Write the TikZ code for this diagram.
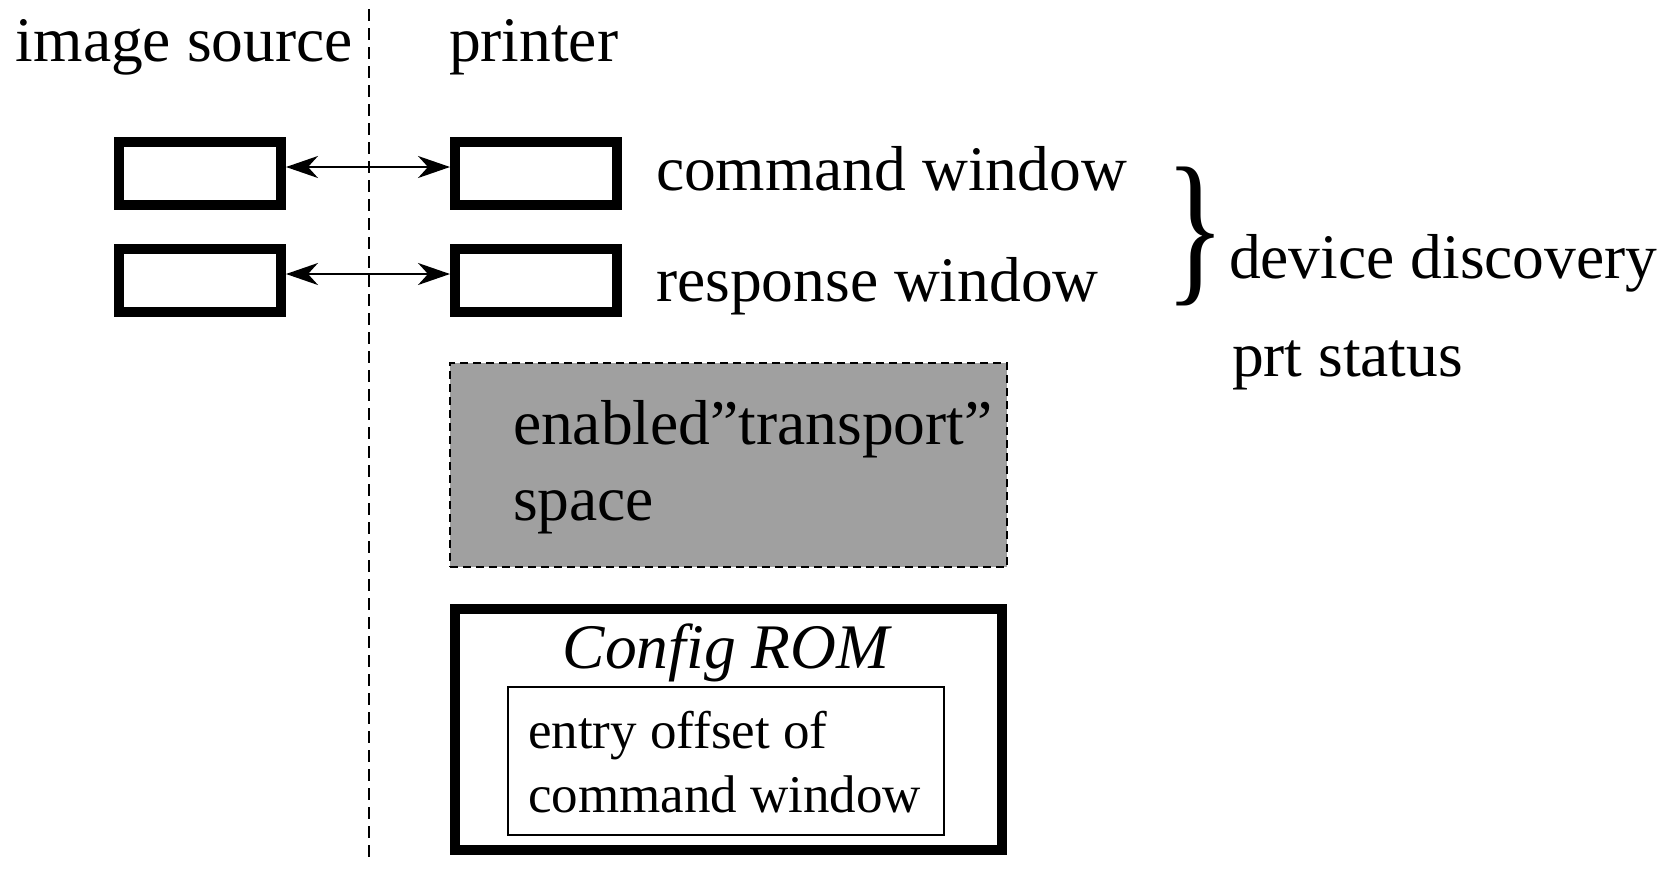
\documentclass[tikz,border=0pt]{standalone}
\usepackage{fontspec}
\usepackage{graphicx}
\setmainfont{Liberation Serif}
\usetikzlibrary{arrows.meta}
\begin{document}
\begin{tikzpicture}[x=0.5pt,y=-0.5pt,
  lbl/.style={anchor=base west,inner sep=0pt,outer sep=0pt},
  win/.style={draw,line width=5pt,minimum width=81pt,minimum height=31.5pt,inner sep=0pt,fill=white},
  link/.style={{Stealth[length=16pt,width=11pt,inset=5pt]}-{Stealth[length=16pt,width=11pt,inset=5pt]},line width=1pt},
  font=\fontsize{31.75}{38}\selectfont]
\useasboundingbox (0,0) rectangle (1676,869);
% divider
\coordinate (dtop) at (369,9);
\coordinate (dbot) at (369,860);
\draw[line width=1.4pt,dash pattern=on 6pt off 3.5pt] (dtop) -- (dbot);
% headings
\node[lbl] (src) at (16,61) {image source};
\node[lbl] (prt) at (449,61) {printer};
% windows
\node[win] (lb1) at (200,173) {};
\node[win] (lb2) at (200,280) {};
\node[win] (rb1) at (536,173) {};
\node[win] (rb2) at (536,280) {};
\draw[link] ([yshift=3pt]lb1.east) -- ([yshift=3pt]rb1.west);
\draw[link] ([yshift=3pt]lb2.east) -- ([yshift=3pt]rb2.west);
\node[lbl] (cw) at (656,190) {command window};
\node[lbl] (rw) at (656,301) {response window};
% brace
\node[inner sep=0pt] (br) at (1195,236) {\resizebox*{30pt}{69.5pt}{\}}};
\node[lbl] (dd) at (1229,278) {device discovery};
\node[lbl] (ps) at (1232,376) {prt status};
% transport space
\node[draw,line width=0.8pt,dash pattern=on 4pt off 2.5pt,fill={rgb,255:red,160;green,160;blue,160},
  minimum width=278.5pt,minimum height=102pt,inner sep=0pt] (ts) at (728.5,465) {};
\node[lbl] (ts1) at (513,444) {enabled”transport”};
\node[lbl] (ts2) at (513,520) {space};
% config ROM
\node[draw,line width=4.8pt,minimum width=273.5pt,minimum height=120.5pt,inner sep=0pt] (rom) at (728.5,729.5) {};
\node[anchor=base,inner sep=0pt,font=\fontsize{31.75}{38}\selectfont\itshape] (romt) at (726,668) {Config ROM};
\node[draw,line width=1pt,minimum width=218pt,minimum height=74pt,inner sep=0pt] (eo) at (726,761) {};
\node[lbl,font=\fontsize{26.5}{32}\selectfont] (eo1) at (528,748) {entry offset of};
\node[lbl,font=\fontsize{26.5}{32}\selectfont] (eo2) at (528,812) {command window};
\end{tikzpicture}
\end{document}
